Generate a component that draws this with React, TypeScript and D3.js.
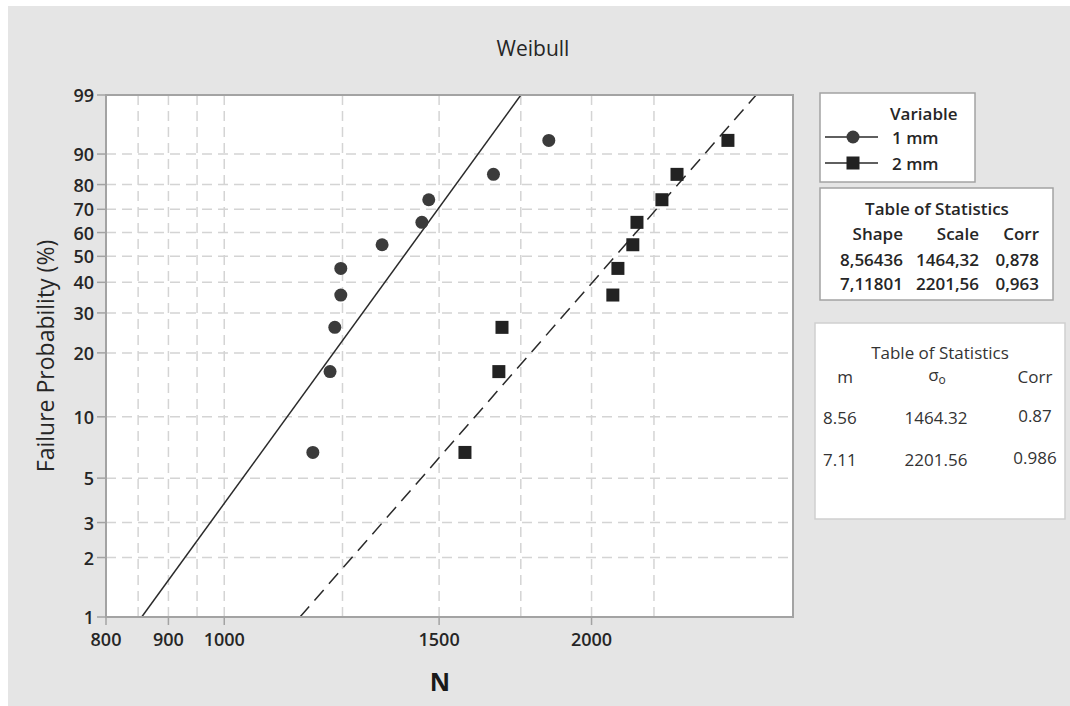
import React from 'react';
import * as d3 from 'd3';

// values
const probs = [6.7, 16.4, 26.0, 35.6, 45.2, 54.8, 64.4, 74.0, 83.7, 93.3];
const cycles1mm = [1182, 1221, 1232, 1246, 1246, 1347, 1452, 1471, 1662, 1845];
const cycles2mm = [1575, 1679, 1689, 2082, 2102, 2162, 2179, 2284, 2350, 2587];

const seriesNames = ['1 mm', '2 mm'];
const shapes = [8.56436, 7.11801];
const scales = [1464.32, 2201.56];

const statsHeader = ['Shape', 'Scale', 'Corr'];
const statsRows = [
  ['8,56436', '1464,32', '0,878'],
  ['7,11801', '2201,56', '0,963'],
];
const stats2Rows = [
  ['8.56', '1464.32', '0.87'],
  ['7.11', '2201.56', '0.986'],
];

const xTicks = [800, 900, 1000, 1500, 2000];
const xGrid = [850, 900, 950, 1000, 1250, 1500, 1750, 2000, 2250];
const yTicks = [1, 2, 3, 5, 10, 20, 30, 40, 50, 60, 70, 80, 90, 99];

const W = 1070, H = 706;
const left = 106, right = 793, top = 95, bottom = 617;
const FONT = '"Open Sans", "Noto Sans", sans-serif';

// Weibull probability transform
const wt = (p: number) => Math.log(-Math.log(1 - p / 100));

const App = () => {
  const x = d3.scaleLog().domain([800, 2925]).range([left, right]);
  const yT = d3.scaleLinear().domain([wt(1), wt(99)]).range([bottom, top]);
  const y = (p: number) => yT(wt(p));

  const fitLine = (i: number) => {
    const pts = [1, 99].map(p => [x(scales[i] * Math.pow(-Math.log(1 - p / 100), 1 / shapes[i])), y(p)] as [number, number]);
    return d3.line()(pts) || '';
  };

  const gridColor = '#d4d4d4';
  const axisColor = '#a3a3a3';
  const txt = '#262626';

  return (
    <svg width={W} height={H} style={{ position: 'absolute', left: 0, top: 0, fontFamily: FONT }}>
      <rect x={0} y={0} width={W} height={H} fill="#fff" />
      <rect x={8} y={6} width={W - 8} height={H - 6} fill="#e5e5e5" />

      <text x={533} y={48} textAnchor="middle" dominantBaseline="central" fontSize={21} fontWeight={500} fill={txt}>Weibull</text>

      <defs>
        <clipPath id="plotClip">
          <rect x={left} y={top} width={right - left} height={bottom - top} />
        </clipPath>
      </defs>

      <rect x={left} y={top} width={right - left} height={bottom - top} fill="#fff" />

      {/* grid */}
      {xGrid.map(v => (
        <line key={'gx' + v} x1={x(v)} x2={x(v)} y1={top} y2={bottom} stroke={gridColor} strokeWidth={1.5} strokeDasharray="10,6" />
      ))}
      {yTicks.filter(v => v !== 1 && v !== 99).map(v => (
        <line key={'gy' + v} x1={left} x2={right} y1={y(v)} y2={y(v)} stroke={gridColor} strokeWidth={1.5} strokeDasharray="10,6" />
      ))}

      {/* fitted lines */}
      <g clipPath="url(#plotClip)">
        <path d={fitLine(0)} stroke="#2a2a2a" strokeWidth={1.5} fill="none" />
        <path d={fitLine(1)} stroke="#2a2a2a" strokeWidth={1.5} fill="none" strokeDasharray="14,8" />
      </g>

      {/* points */}
      {cycles1mm.map((v, i) => (
        <circle key={'c' + i} cx={x(v)} cy={y(probs[i])} r={6.5} fill="#3b3b3b" />
      ))}
      {cycles2mm.map((v, i) => (
        <rect key={'s' + i} x={x(v) - 6.5} y={y(probs[i]) - 6.5} width={13} height={13} fill="#222" />
      ))}

      {/* frame */}
      <rect x={left} y={top} width={right - left} height={bottom - top} fill="none" stroke={axisColor} strokeWidth={2} />

      {/* y axis */}
      {yTicks.map(v => (
        <g key={'yt' + v}>
          <line x1={97} x2={left} y1={y(v)} y2={y(v)} stroke={axisColor} strokeWidth={1.5} />
          <text x={94} y={y(v)} textAnchor="end" dominantBaseline="central" fontSize={18} fontWeight={600} fill={txt}>{v}</text>
        </g>
      ))}
      <text transform={`translate(45,${(top + bottom) / 2}) rotate(-90)`} textAnchor="middle" dominantBaseline="central" fontSize={23} fontWeight={500} fill={txt}>
        Failure Probability (%)
      </text>

      {/* x axis */}
      {xTicks.map(v => (
        <g key={'xt' + v}>
          <line x1={x(v)} x2={x(v)} y1={bottom} y2={bottom + 8} stroke={axisColor} strokeWidth={1.5} />
          <text x={x(v)} y={639} textAnchor="middle" dominantBaseline="central" fontSize={18} fontWeight={600} fill={txt}>{v}</text>
        </g>
      ))}
      <text x={440} y={681} textAnchor="middle" dominantBaseline="central" fontSize={25} fontWeight="bold" fill="#1a1a1a">N</text>

      {/* legend */}
      <rect x={820} y={93} width={155} height={89} fill="#fff" stroke={axisColor} strokeWidth={1.5} />
      <text x={890} y={113} dominantBaseline="central" fontSize={17} fontWeight={600} fill={txt}>Variable</text>
      {seriesNames.map((s, i) => {
        const cy = 137 + i * 26;
        return (
          <g key={s}>
            <line x1={825} x2={878} y1={cy} y2={cy} stroke="#2a2a2a" strokeWidth={1.5} />
            {i === 0
              ? <circle cx={853} cy={cy} r={6.5} fill="#3b3b3b" />
              : <rect x={846.5} y={cy - 6.5} width={13} height={13} fill="#222" />}
            <text x={892} y={cy} dominantBaseline="central" fontSize={17} fontWeight={600} fill={txt}>{s}</text>
          </g>
        );
      })}

      {/* table of statistics */}
      <rect x={820} y={188} width={233} height={112} fill="#fff" stroke={axisColor} strokeWidth={1.5} />
      <text x={937} y={208} textAnchor="middle" dominantBaseline="central" fontSize={17} fontWeight={600} fill={txt}>Table of Statistics</text>
      {statsHeader.map((h, j) => (
        <text key={h} x={[903, 979, 1039][j]} y={233} textAnchor="end" dominantBaseline="central" fontSize={17} fontWeight={600} fill={txt}>{h}</text>
      ))}
      {statsRows.map((row, i) => row.map((c, j) => (
        <text key={'r' + i + j} x={[903, 979, 1039][j]} y={259 + i * 24} textAnchor="end" dominantBaseline="central" fontSize={17} fontWeight={600} fill={txt}>{c}</text>
      )))}

      {/* second table */}
      <rect x={815} y={323} width={250} height={196} fill="#fff" stroke="#cfcfcf" strokeWidth={1.5} />
      <text x={940} y={352} textAnchor="middle" dominantBaseline="central" fontSize={17} fill="#333">Table of Statistics</text>
      <text x={845} y={376} textAnchor="middle" dominantBaseline="central" fontSize={17} fill="#333">m</text>
      <text x={937} y={374} textAnchor="middle" dominantBaseline="central" fontSize={17} fill="#333">
        σ<tspan fontSize={12} dy={5}>o</tspan>
      </text>
      <text x={1035} y={376} textAnchor="middle" dominantBaseline="central" fontSize={17} fill="#333">Corr</text>
      {stats2Rows.map((row, i) => (
        <g key={'t2' + i}>
          <text x={823} y={417 + i * 42} dominantBaseline="central" fontSize={17} fill="#333">{row[0]}</text>
          <text x={936} y={417 + i * 42} textAnchor="middle" dominantBaseline="central" fontSize={17} fill="#333">{row[1]}</text>
          <text x={1035} y={415 + i * 42} textAnchor="middle" dominantBaseline="central" fontSize={17} fill="#333">{row[2]}</text>
        </g>
      ))}
    </svg>
  );
};

export default App;
